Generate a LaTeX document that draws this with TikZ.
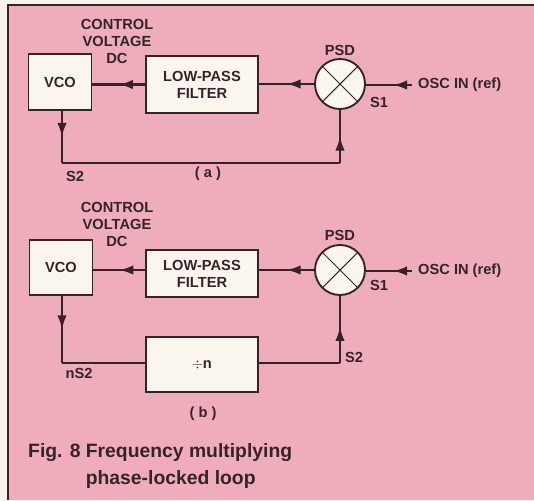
\documentclass[tikz,border=0pt]{standalone}
\usepackage{fontspec}
\setmainfont{Liberation Sans}
\usepackage{tikz}
\usetikzlibrary{arrows.meta,decorations.markings}

\definecolor{panelpink}{RGB}{239,172,187}
\definecolor{papercream}{RGB}{248,243,234}
\definecolor{boxcream}{RGB}{250,246,238}
\definecolor{inkdark}{RGB}{52,36,42}

\tikzset{
  block/.style={draw=inkdark, line width=1.6pt, fill=boxcream, minimum width=#1, inner sep=0pt},
  mixer/.style={draw=inkdark, line width=1.6pt, fill=boxcream, circle, minimum size=1.5cm, inner sep=0pt,
    path picture={\draw[inkdark, line width=0.9pt]
      (path picture bounding box.north west) -- (path picture bounding box.south east)
      (path picture bounding box.north east) -- (path picture bounding box.south west);}},
  wire/.style={draw=inkdark, line width=1.8pt},
  midarrow/.style={wire, postaction={decorate},
    decoration={markings, mark=at position #1 with {\arrow[inkdark]{Latex[length=12pt,width=8pt]}}}},
  midarrow/.default=0.5,
  lbl/.style={text=inkdark, font=\fontsize{12.5}{14.5}\selectfont\bfseries, inner sep=0pt}
}

\begin{document}
\begin{tikzpicture}[x=0.03cm, y=-0.03cm]
\useasboundingbox (0,0) rectangle (534,500);
% Paper and panel
\fill[papercream] (0,0) rectangle (534,500);
\fill[panelpink] (8,5) rectangle (534,500);
\draw[inkdark, line width=1.4pt] (8,500) -- (8,5) -- (534,5);

% (a) basic loop
\node[block=1.89cm, minimum height=1.68cm] (vcoA) at (60,82) {};
\node[lbl] at (vcoA) {VCO};
\node[block=3.36cm, minimum height=1.71cm, lbl, align=center] (lpfA) at (202,84.5) {LOW-PASS\\FILTER};
\node[mixer] (psdA) at (340,84) {};
\node[lbl] (psdlabA) at (340,50) {PSD};
\node[lbl, align=center] (cvA) at (117,41) {CONTROL\\VOLTAGE\\DC};
\node[lbl, anchor=west] (oscA) at (418,85) {OSC IN (ref)};
\node[lbl] (s1A) at (379,102) {S1};
\coordinate (bendA1) at (62,163);
\coordinate (bendA2) at (340,163);
\node[lbl] (s2A) at (75,176) {S2};
\node[lbl] (capA) at (208,174) {( a )};

\draw[midarrow=0.48, shorten <=5pt] (oscA.west) -- (psdA.east |- oscA.west);
\draw[midarrow] (psdA.west) -- (psdA.west -| lpfA.east);
\draw[midarrow] (lpfA.west) -- (lpfA.west -| vcoA.east);
\draw[midarrow] (vcoA.south -| bendA1) -- (bendA1);
\draw[wire] (bendA1) -- (bendA2);
\draw[midarrow] (bendA2) -- (psdA.south);

% (b) with divider
\node[block=1.89cm, minimum height=1.65cm] (vcoB) at (61,267.5) {};
\node[lbl] at (vcoB) {VCO};
\node[block=3.36cm, minimum height=1.41cm, lbl, align=center] (lpfB) at (202,273.5) {LOW-PASS\\FILTER};
\node[mixer] (psdB) at (340,270) {};
\node[lbl] (psdlabB) at (340,235) {PSD};
\node[lbl, align=center] (cvB) at (117,224) {CONTROL\\VOLTAGE\\DC};
\node[lbl, anchor=west] (oscB) at (418,271) {OSC IN (ref)};
\node[lbl] (s1B) at (379,285) {S1};
\node[block=3.36cm, minimum height=1.65cm, lbl] (divB) at (202,364.5) {$\div$n};
\coordinate (bendB1) at (62,363);
\coordinate (bendB2) at (340,363);
\node[lbl] (s2B) at (354,357) {S2};
\node[lbl] (ns2B) at (79,373) {nS2};
\node[lbl] (capB) at (203,414) {( b )};

\draw[midarrow=0.48, shorten <=5pt] (oscB.west) -- (psdB.east |- oscB.west);
\draw[midarrow] (psdB.west) -- (psdB.west -| lpfB.east);
\draw[midarrow] (lpfB.west |- psdB.west) -- (vcoB.east |- psdB.west);
\draw[midarrow] (vcoB.south -| bendB1) -- (bendB1);
\draw[wire] (bendB1) -- (divB.west |- bendB1);
\draw[wire] (divB.east |- bendB2) -- (bendB2);
\draw[midarrow=0.54] (bendB2) -- (psdB.south);

% Caption
\node[text=inkdark, font=\fontsize{16.5}{23}\selectfont\bfseries, anchor=north west, align=left, inner sep=0pt]
  (figcap) at (28,443) {Fig. 8 Frequency multiplying\\\phantom{Fig. 8 }phase-locked loop};
\end{tikzpicture}
\end{document}
